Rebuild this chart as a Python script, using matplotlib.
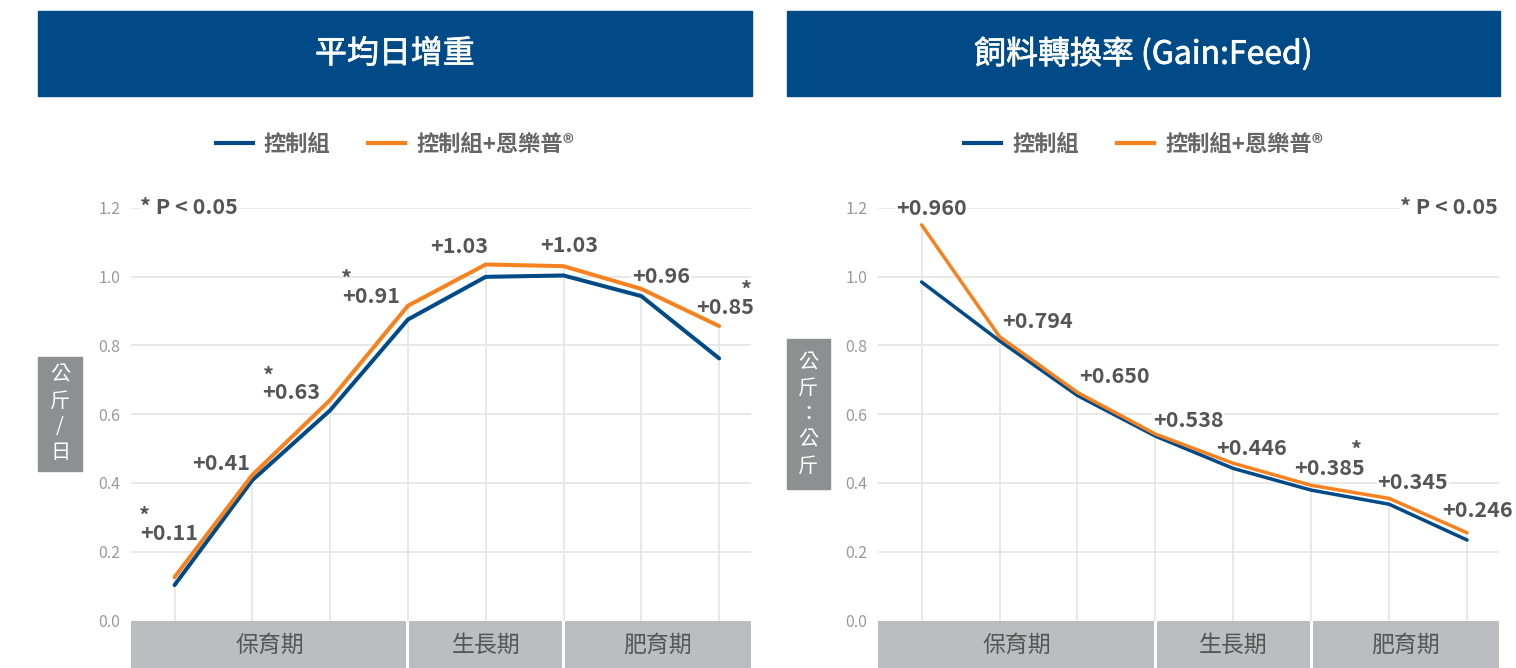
import numpy as np
import matplotlib
matplotlib.use('Agg')
import matplotlib.pyplot as plt
import matplotlib.patheffects as pe
from matplotlib.patches import Rectangle
from matplotlib.lines import Line2D

plt.rcParams['font.family'] = ['Noto Sans CJK TC', 'DejaVu Sans']

# ---- data ----
stages = ['保育期', '生長期', '肥育期']
stage_edges = [-0.56, 3, 5, 7.41]
points = np.arange(8)

adg_control = [0.103, 0.408, 0.611, 0.875, 0.999, 1.003, 0.943, 0.762]
adg_product = [0.126, 0.423, 0.641, 0.915, 1.035, 1.030, 0.964, 0.856]
adg_labels = ['+0.11', '+0.41', '+0.63', '+0.91', '+1.03', '+1.03', '+0.96', '+0.85']

gf_control = [0.984, 0.813, 0.654, 0.536, 0.442, 0.379, 0.338, 0.234]
gf_product = [1.150, 0.825, 0.663, 0.542, 0.457, 0.393, 0.355, 0.255]
gf_labels = ['+0.960', '+0.794', '+0.650', '+0.538', '+0.446', '+0.385', '+0.345', '+0.246']

yticks = [0.0, 0.2, 0.4, 0.6, 0.8, 1.0, 1.2]
series_names = ['控制組', '控制組+恩樂普®']

# ---- layout (label spots, data units) ----
adg_label_pos = [(-0.44, 0.254), (0.23, 0.455), (1.13, 0.662), (2.15, 0.943),
                 (3.29, 1.087), (4.70, 1.089), (5.88, 1.001), (6.70, 0.910)]
adg_star_pos = [(-0.39, 0.315), (1.20, 0.722), (2.21, 1.004), (7.35, 0.973)]
gf_label_pos = [(-0.33, 1.198), (1.035, 0.869), (2.02, 0.708), (2.97, 0.581),
                (3.78, 0.501), (4.78, 0.442), (5.85, 0.401), (6.68, 0.321)]
gf_star_pos = [(5.58, 0.507)]

BLUE = '#004a87'
ORANGE = '#f5821f'
GRID = '#e6e6e6'
LABEL = '#555555'
BAND = '#bcbdc0'
BOXGRAY = '#8e8f91'

W, H = 1516, 668
fig = plt.figure(figsize=(W / 100, H / 100), dpi=100)


def draw_panel(x0, x1, bar_l, bar_r, title, control, product, labels,
               label_pos, star_pos, p_pos, p_ha, lw, box, box_text):
    y_top, y_zero = 207.7, 620.5
    ax = fig.add_axes([x0 / W, (H - y_zero) / H, (x1 - x0) / W, (y_zero - y_top) / H])
    ax.set_xlim(stage_edges[0], stage_edges[-1])
    ax.set_ylim(0, 1.2)
    for s in ax.spines.values():
        s.set_visible(False)
    ax.set_xticks([])
    ax.set_yticks(yticks)
    ax.set_yticklabels(['%.1f' % t for t in yticks])
    ax.tick_params(axis='y', length=0, pad=7.5, labelsize=11.5, labelcolor='#999999')
    for t in yticks[1:]:
        ax.axhline(t, color=GRID, lw=1.3, zorder=0)
    ax.vlines(points, 0, np.maximum(control, product), color=GRID, lw=1.3, zorder=0)

    ax.plot(points, control, color=BLUE, lw=lw, solid_capstyle='round', zorder=3)
    ax.plot(points, product, color=ORANGE, lw=lw, solid_capstyle='round', zorder=3)

    bb = dict(facecolor='white', edgecolor='none', pad=0.5)
    for lab, (lx, ly) in zip(labels, label_pos):
        ax.text(lx, ly, lab, ha='left', va='center', fontsize=15.5, fontweight='bold',
                color=LABEL, bbox=bb, clip_on=False, zorder=2)
    for sx, sy in star_pos:
        ax.text(sx, sy - 0.012, '*', ha='center', va='center', fontsize=15.5,
                fontweight='bold', color=LABEL, clip_on=False, zorder=2)
    ax.text(p_pos[0], p_pos[1], '* P < 0.05', ha=p_ha, va='center', fontsize=15.5,
            fontweight='bold', color=LABEL, bbox=bb, clip_on=False, zorder=2)

    # stage band
    band = fig.add_axes([x0 / W, 0, (x1 - x0) / W, (H - y_zero) / H])
    band.set_xlim(stage_edges[0], stage_edges[-1])
    band.set_ylim(0, 1)
    band.axis('off')
    gap = 0.02
    for i, name in enumerate(stages):
        a, b = stage_edges[i], stage_edges[i + 1]
        band.axvspan(a + (gap if i > 0 else 0), b - (gap if i < len(stages) - 1 else 0),
                     color=BAND, lw=0)
        band.text((a + b) / 2, 0.48, name, ha='center', va='center', fontsize=16.5,
                  color=LABEL)

    # title bar
    fig.patches.append(Rectangle((bar_l / W, (H - 96) / H), (bar_r - bar_l) / W, 85 / H,
                                 transform=fig.transFigure, color=BLUE, zorder=0))
    fig.text((bar_l + bar_r) / 2 / W, (H - 54) / H, title, ha='center', va='center',
             fontsize=23, color='white',
             path_effects=[pe.withStroke(linewidth=0.5, foreground='white')])

    # legend
    handles = [Line2D([], [], color=BLUE, lw=3), Line2D([], [], color=ORANGE, lw=3)]
    ax.legend(handles, series_names, loc='center', ncol=2, frameon=False,
              bbox_to_anchor=((bar_l + bar_r) / 2 / W, (H - 144) / H),
              bbox_transform=fig.transFigure, prop={'size': 16, 'weight': 'bold'},
              labelcolor='#666666', handlelength=1.67, handletextpad=0.5,
              columnspacing=1.7)

    # y label box
    bx0, by0, bx1, by1 = box
    fig.patches.append(Rectangle((bx0 / W, (H - by1) / H), (bx1 - bx0) / W, (by1 - by0) / H,
                                 transform=fig.transFigure, color=BOXGRAY, zorder=0))
    fig.text((bx0 + bx1) / 2 / W, (H - (by0 + by1) / 2) / H, box_text, ha='center',
             va='center', fontsize=14.5, color='white', linespacing=1.3)
    return ax


draw_panel(131, 751, 38, 752, '平均日增重', adg_control, adg_product, adg_labels,
           adg_label_pos, adg_star_pos, (-0.44, 1.2), 'left', 2.9,
           (38.3, 356.7, 81.7, 470.7), '公\n斤\n/\n日')
draw_panel(878, 1499, 787, 1500, '飼料轉換率 (Gain:Feed)', gf_control, gf_product, gf_labels,
           gf_label_pos, gf_star_pos, (7.40, 1.2), 'right', 2.5,
           (786.7, 339.3, 830, 489.3), '公\n斤\n：\n公\n斤')

fig.savefig('out.png', dpi=100)
